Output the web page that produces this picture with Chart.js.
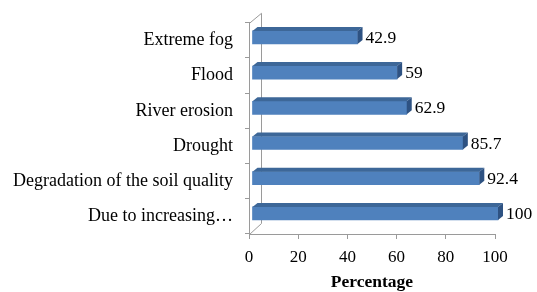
<!DOCTYPE html>
<html>
<head>
<meta charset="utf-8">
<script src="https://cdn.jsdelivr.net/npm/chart.js@4"></script>
<style>
  html, body { margin: 0; padding: 0; background: #fff; }
  #wrap { width: 537px; height: 292px; }
</style>
</head>
<body>
<div id="wrap"><canvas id="grafico" width="537" height="292"></canvas></div>
<script>
// Datos del gráfico
const categorias = ['Extreme fog', 'Flood', 'River erosion', 'Drought', 'Degradation of the soil quality', 'Due to increasing\u2026'];
const porcentajes = [42.9, 59, 62.9, 85.7, 92.4, 100];
const ticksX = [0, 20, 40, 60, 80, 100];

const fuente = "'Liberation Serif', 'Times New Roman', serif";
const colorEje = '#9a9a9a';

// Efecto 3D: pared lateral, caras superior/lateral de las barras y etiquetas
const efecto3D = {
    id: 'efecto3D',
    beforeDatasetsDraw(chart) {
        const { ctx, chartArea: a } = chart;
        ctx.save();
        ctx.strokeStyle = colorEje;
        ctx.lineWidth = 1;
        ctx.beginPath();
        ctx.moveTo(a.left + 0.5, a.top + 0.5);
        ctx.lineTo(a.left + 12.5, a.top - 9.5);
        ctx.lineTo(a.left + 12.5, a.bottom - 10.5);
        ctx.lineTo(a.left + 0.5, a.bottom + 0.5);
        ctx.stroke();
        ctx.restore();
        ctx.save();
        ctx.translate(3, -3);
    },
    afterDatasetsDraw(chart) {
        const { ctx } = chart;
        const meta = chart.getDatasetMeta(0);
        meta.data.forEach((bar, i) => {
            const p = bar.getProps(['x', 'y', 'base', 'height'], true);
            const top = p.y - p.height / 2;
            const bottom = p.y + p.height / 2;
            // cara superior
            ctx.fillStyle = '#3d6798';
            ctx.beginPath();
            ctx.moveTo(p.base, top);
            ctx.lineTo(p.x, top);
            ctx.lineTo(p.x + 5, top - 4);
            ctx.lineTo(p.base + 5, top - 4);
            ctx.closePath();
            ctx.fill();
            // cara lateral
            ctx.fillStyle = '#2e5282';
            ctx.beginPath();
            ctx.moveTo(p.x, top);
            ctx.lineTo(p.x + 5, top - 4);
            ctx.lineTo(p.x + 5, bottom - 4);
            ctx.lineTo(p.x, bottom);
            ctx.closePath();
            ctx.fill();
            // etiqueta de valor
            ctx.fillStyle = '#000';
            ctx.font = '17.5px ' + fuente;
            ctx.textAlign = 'left';
            ctx.textBaseline = 'middle';
            ctx.fillText(String(porcentajes[i]), p.x + 8, p.y + 1);
        });
        ctx.restore();
    }
};

new Chart(document.getElementById('grafico'), {
    type: 'bar',
    data: {
        labels: categorias,
        datasets: [{
            data: porcentajes,
            backgroundColor: '#4f81bd',
            borderWidth: 0,
            barThickness: 13,
            clip: false
        }]
    },
    options: {
        indexAxis: 'y',
        responsive: false,
        animation: false,
        events: [],
        layout: { padding: { top: 19, right: 42, left: 0, bottom: 0 } },
        plugins: {
            legend: { display: false },
            tooltip: { enabled: false }
        },
        scales: {
            x: {
                min: 0,
                max: 100,
                afterBuildTicks: (scale) => { scale.ticks = ticksX.map(v => ({ value: v })); },
                afterFit: (scale) => { scale.height = 58; },
                grid: { drawOnChartArea: false, color: colorEje, tickLength: 5 },
                border: { color: colorEje },
                ticks: { color: '#000', font: { family: fuente, size: 17 }, padding: 8, maxRotation: 0 },
                title: {
                    display: true,
                    text: 'Percentage',
                    color: '#000',
                    font: { family: fuente, size: 17.5, weight: 'bold' },
                    padding: { top: 0, bottom: -1 }
                }
            },
            y: {
                afterFit: (scale) => { scale.width = 249; },
                grid: { drawOnChartArea: false, color: colorEje, tickLength: 4 },
                border: { color: colorEje },
                ticks: { color: '#000', font: { family: fuente, size: 18 }, padding: 12, autoSkip: false }
            }
        }
    },
    plugins: [efecto3D]
});
</script>
</body>
</html>
